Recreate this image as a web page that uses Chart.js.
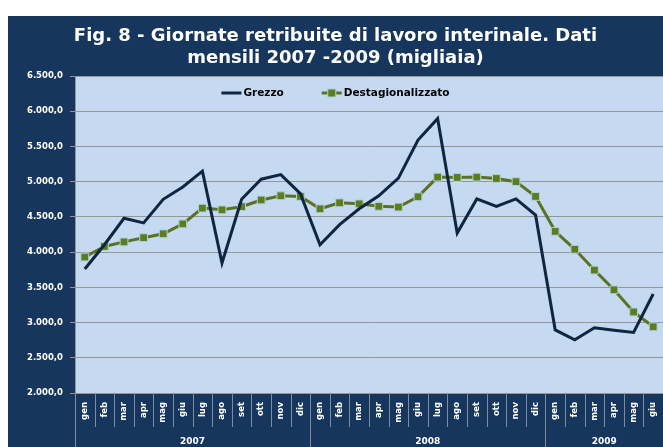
<!DOCTYPE html>
<html>
<head>
<meta charset="utf-8">
<script src="https://cdn.jsdelivr.net/npm/chart.js@4/dist/chart.umd.min.js"></script>
<style>
  body { margin: 0; background: #fff; }
  #wrap { position: absolute; left: 8px; top: 16px; width: 655px; height: 431px; background: #17365D; }
</style>
</head>
<body>
<div id="wrap"><canvas id="chart" width="655" height="431"></canvas></div>
<script>
"strict";

// categories
const months = ["gen", "feb", "mar", "apr", "mag", "giu", "lug", "ago", "set", "ott", "nov", "dic",
  "gen", "feb", "mar", "apr", "mag", "giu", "lug", "ago", "set", "ott", "nov", "dic",
  "gen", "feb", "mar", "apr", "mag", "giu"];
const years = ["2007", "2008", "2009"];
const monthsPerYear = [12, 12, 6];

// series (migliaia)
const grezzo = [3760, 4105, 4480, 4415, 4750, 4925, 5150, 3845, 4750, 5035, 5100, 4830,
  4105, 4390, 4615, 4800, 5050, 5590, 5895, 4270, 4755, 4650, 4755, 4525,
  2895, 2755, 2925, 2890, 2860, 3405];
const destagionalizzato = [3930, 4080, 4145, 4205, 4260, 4400, 4625, 4600, 4645, 4740, 4800, 4790,
  4615, 4700, 4685, 4650, 4640, 4785, 5065, 5060, 5065, 5045, 5000, 4790,
  4295, 4040, 3745, 3465, 3150, 2940];

const yMin = 2000, yMax = 6500, yStep = 500;

const FONT = "'DejaVu Sans', Verdana, sans-serif";
const navy = "#0F2540";
const olive = "#5B7223";
const markerFill = "#5E7C1E";
const markerEdge = "#A9D4DC";

function fmt(v) {
  const s = Math.round(v).toString().replace(/\B(?=(\d{3})+(?!\d))/g, ".");
  return s + ",0";
}

// plot area fill
const plotBg = {
  id: "plotBg",
  beforeDraw(chart) {
    const { ctx, chartArea: a } = chart;
    ctx.save();
    ctx.fillStyle = "#C5D9F1";
    ctx.fillRect(a.left, a.top, a.right - a.left, a.bottom - a.top);
    ctx.restore();
  }
};

// month separators, year separators and year labels
const yearAxis = {
  id: "yearAxis",
  afterDraw(chart) {
    const { ctx, chartArea: a } = chart;
    const x = chart.scales.x;
    const half = (x.getPixelForTick(1) - x.getPixelForTick(0)) / 2;
    const yearStarts = [0];
    monthsPerYear.forEach(n => yearStarts.push(yearStarts[yearStarts.length - 1] + n));
    ctx.save();
    ctx.strokeStyle = "#7F8C9C";
    ctx.lineWidth = 1;
    for (let i = 0; i <= months.length; i++) {
      const px = Math.round((i < months.length ? x.getPixelForTick(i) - half : x.getPixelForTick(i - 1) + half)) + 0.5;
      const isYear = yearStarts.includes(i);
      ctx.beginPath();
      ctx.moveTo(px, a.bottom);
      ctx.lineTo(px, isYear ? chart.height : a.bottom + 34);
      ctx.stroke();
    }
    ctx.fillStyle = "#FFFFFF";
    ctx.font = "bold 9px " + FONT;
    ctx.textAlign = "center";
    ctx.textBaseline = "middle";
    years.forEach((y, k) => {
      const i0 = yearStarts[k], i1 = yearStarts[k + 1] - 1;
      const cx = (x.getPixelForTick(i0) + x.getPixelForTick(i1)) / 2;
      ctx.fillText(y, cx, a.bottom + 49);
    });
    ctx.restore();
  }
};

// legend drawn inside the plot area
const innerLegend = {
  id: "innerLegend",
  afterDraw(chart) {
    const { ctx, chartArea: a } = chart;
    const ds = chart.data.datasets;
    ctx.save();
    ctx.font = "bold 10.5px " + FONT;
    ctx.textBaseline = "middle";
    const iconW = 20, gap = 38;
    const widths = ds.map(d => iconW + 2 + ctx.measureText(d.label).width);
    const total = widths.reduce((s, w) => s + w, 0) + gap * (ds.length - 1);
    let x0 = chart.width / 2 - total / 2;
    const y = a.top + 17;
    ds.forEach((d, k) => {
      ctx.strokeStyle = d.borderColor;
      ctx.lineWidth = 3;
      ctx.beginPath();
      ctx.moveTo(x0, y);
      ctx.lineTo(x0 + iconW, y);
      ctx.stroke();
      if (d.pointRadius > 0) {
        ctx.fillStyle = d.pointBackgroundColor;
        ctx.strokeStyle = d.pointBorderColor;
        ctx.lineWidth = 1;
        ctx.fillRect(x0 + iconW / 2 - 4, y - 4, 8, 8);
        ctx.strokeRect(x0 + iconW / 2 - 4, y - 4, 8, 8);
      }
      ctx.fillStyle = "#000000";
      ctx.fillText(d.label, x0 + iconW + 2, y);
      x0 += widths[k] + gap;
    });
    ctx.restore();
  }
};

new Chart(document.getElementById("chart"), {
  type: "line",
  data: {
    labels: months,
    datasets: [
      {
        label: "Grezzo",
        data: grezzo,
        borderColor: navy,
        borderWidth: 3,
        pointRadius: 0,
        tension: 0,
      },
      {
        label: "Destagionalizzato",
        data: destagionalizzato,
        borderColor: olive,
        borderWidth: 3,
        pointStyle: "rect",
        pointRadius: 5.5,
        pointBackgroundColor: markerFill,
        pointBorderColor: markerEdge,
        pointBorderWidth: 1,
        tension: 0,
      },
    ],
  },
  options: {
    responsive: false,
    animation: false,
    layout: { padding: 0, autoPadding: false },
    plugins: {
      legend: { display: false },
      tooltip: { enabled: false },
      title: {
        display: true,
        text: ["Fig. 8 - Giornate retribuite di lavoro interinale. Dati", "mensili 2007 -2009 (migliaia)"],
        color: "#FFFFFF",
        font: { family: FONT, weight: "bold", size: 18, lineHeight: "22px" },
        padding: { top: 9, bottom: 7 },
      },
    },
    scales: {
      x: {
        offset: true,
        grid: { display: false, drawTicks: false, offset: true },
        border: { display: false },
        ticks: {
          autoSkip: false,
          minRotation: 90,
          maxRotation: 90,
          padding: 9,
          color: "#FFFFFF",
          font: { family: FONT, weight: "bold", size: 8.5 },
        },
        afterFit(scale) {
          scale.height = 54;
          scale.paddingLeft = 0;
          scale.paddingRight = 0;
        },
      },
      y: {
        min: yMin,
        max: yMax,
        ticks: {
          stepSize: yStep,
          padding: 7,
          color: "#FFFFFF",
          font: { family: FONT, weight: "bold", size: 8.5 },
          callback: v => fmt(v),
        },
        grid: { color: "#969696", tickLength: 5, tickColor: "#969696" },
        border: { display: true, color: "#969696" },
        afterFit(scale) { scale.width = 67; },
      },
    },
  },
  plugins: [plotBg, yearAxis, innerLegend],
});
</script>
</body>
</html>
